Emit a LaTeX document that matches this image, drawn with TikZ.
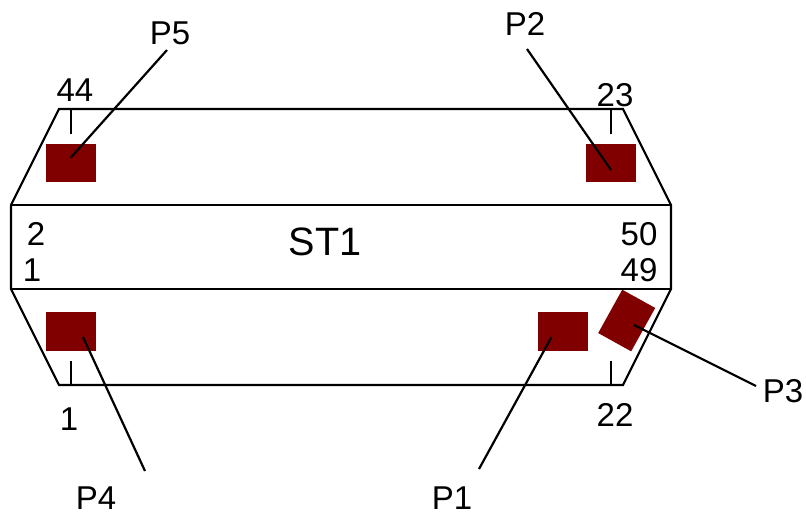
\documentclass[tikz,border=0pt]{standalone}
\usepackage{fontspec}
\setmainfont{Liberation Sans}
\definecolor{pad}{RGB}{128,0,0}
\tikzset{
 padbox/.style={fill=pad,draw=none,minimum width=50.5pt,minimum height=38.5pt,inner sep=0,anchor=center},
 lbl/.style={inner sep=0,font=\fontsize{33}{33}\selectfont,text=black},
 big/.style={inner sep=0,font=\fontsize{39.6}{39.6}\selectfont,text=black},
 ln/.style={draw=black,line width=2.2pt},
 tick/.style={draw=black,line width=2pt}
}
\begin{document}
\begin{tikzpicture}[x=1pt,y=-1pt]
\useasboundingbox (0,0) rectangle (806,515);
\node[padbox] (pfive) at (71,163) {};
\node[padbox] (ptwo) at (611,163) {};
\node[padbox] (pfour) at (71,331.5) {};
\node[padbox] (pone) at (563,331.5) {};
\node[padbox,minimum width=37.7pt,minimum height=49.6pt,rotate=-29] (pthree) at (626.7,320.5) {};
\coordinate (e5) at (70.7,157.7);
\coordinate (e2) at (611,170);
\coordinate (e4) at (83,337);
\coordinate (e1) at (551.5,337);
\coordinate (e3) at (634,325);
\draw[ln,line join=miter] (11,205) -- (59,109) -- (623,109) -- (671,205) -- (671,289) -- (623,385) -- (59,385) -- (11,289) -- cycle;
\draw[ln] (11,205) -- (671,205);
\draw[ln] (11,289) -- (671,289);
\draw[tick] (71,109) -- (71,134);
\draw[tick] (611,109) -- (611,134);
\draw[tick] (71,361) -- (71,386);
\draw[tick] (611,361) -- (611,386);
\coordinate (a5) at (167,50);
\coordinate (a2) at (527,49);
\coordinate (a4) at (145,471);
\coordinate (a1) at (479,469);
\coordinate (a3) at (756,386);
\draw[ln] (a5) -- (e5);
\draw[ln] (a2) -- (e2);
\draw[ln] (a4) -- (e4);
\draw[ln] (a1) -- (e1);
\draw[ln] (a3) -- (e3);
\node[lbl] (t5) at (170,33) {P5};
\node[lbl] (t2) at (525,24) {P2};
\node[lbl] (t4) at (96,498) {P4};
\node[lbl] (t1) at (452,498) {P1};
\node[lbl] (t3) at (783,391) {P3};
\node[lbl] (n44) at (75,90) {44};
\node[lbl] (n23) at (615,95) {23};
\node[lbl] (n1b) at (69,419) {1};
\node[lbl] (n22) at (615,415) {22};
\node[lbl] (n2) at (36,234) {2};
\node[lbl] (n1) at (32,270) {1};
\node[lbl] (n50) at (639,234) {50};
\node[lbl] (n49) at (639,270) {49};
\node[big] (st) at (325,242) {ST1};
\end{tikzpicture}
\end{document}
